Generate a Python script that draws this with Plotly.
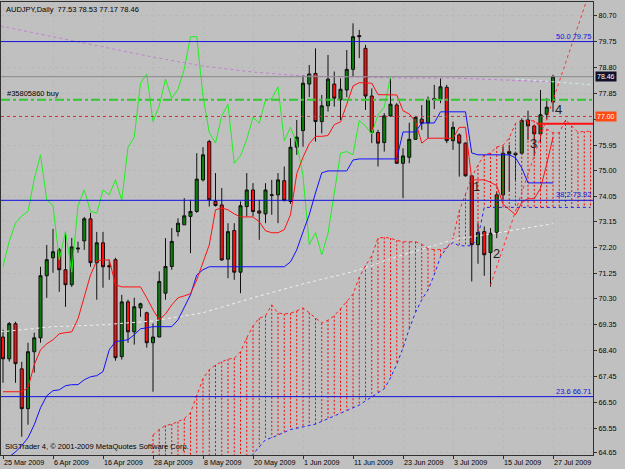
import plotly.graph_objects as go

# ---------------- data ----------------
tick_idx = [0, 8, 16, 24, 32, 40, 48, 56, 64, 72, 80, 88]
tick_labels = ["25 Mar 2009", "6 Apr 2009", "16 Apr 2009", "28 Apr 2009", "8 May 2009",
               "20 May 2009", "1 Jun 2009", "11 Jun 2009", "23 Jun 2009", "3 Jul 2009",
               "15 Jul 2009", "27 Jul 2009"]
price_ticks = [80.70, 79.75, 78.80, 77.85, 76.90, 75.95, 75.00, 74.05, 73.15, 72.20,
               71.25, 70.30, 69.35, 68.40, 67.45, 66.50, 65.55, 64.65]
price_tick_text = ["80.70", "79.75", "78.80", "77.85", "", "75.95", "75.00", "74.05", "73.15", "72.20",
                   "71.25", "70.30", "69.35", "68.40", "67.45", "66.50", "65.55", "64.65"]

opens = [68.90, 68.10, 69.39, 67.73, 66.27, 68.36, 68.87, 71.15, 71.81, 72.10,
         71.37, 70.82, 72.17, 72.43, 73.24, 71.63, 72.36, 71.52, 71.74, 68.18,
         70.19, 69.09, 69.97, 69.79, 68.69, 68.90, 70.51, 71.49, 72.77, 73.02,
         73.33, 73.51, 74.67, 76.08, 73.88, 73.75, 71.76, 72.81, 71.28, 73.69,
         74.30, 73.53, 73.42, 74.10, 74.12, 74.64, 73.88, 75.87, 76.48, 78.19,
         78.58, 76.81, 77.39, 78.19, 77.61, 77.97, 78.73, 79.97, 79.50, 77.75,
         76.41, 76.04, 77.02, 77.42, 75.28, 75.50, 76.16, 76.90, 76.77, 77.61,
         77.63, 78.07, 76.11, 76.32, 76.02, 74.82, 72.29, 72.77, 72.00, 72.74,
         74.12, 75.62, 75.65, 75.65, 76.87, 76.65, 76.36, 77.08, 77.53]
highs = [69.17, 69.45, 69.46, 67.99, 68.69, 69.06, 71.48, 72.28, 72.87, 72.17,
         72.76, 72.54, 72.40, 73.31, 73.46, 72.76, 72.76, 71.74, 71.81, 70.45,
         70.27, 70.34, 70.16, 69.83, 69.40, 71.31, 72.53, 72.90, 73.26, 74.00,
         73.94, 75.65, 75.87, 76.14, 74.92, 74.37, 73.08, 73.08, 73.88, 74.92,
         74.55, 73.94, 74.55, 74.67, 74.92, 75.16, 76.20, 76.87, 78.52, 78.89,
         79.50, 77.79, 79.26, 78.65, 78.40, 79.44, 80.42, 80.18, 79.63, 78.03,
         76.51, 77.12, 78.40, 77.49, 75.83, 76.77, 77.02, 77.42, 77.73, 78.16,
         78.40, 78.16, 76.81, 76.38, 76.05, 74.85, 73.08, 72.96, 72.90, 74.24,
         75.89, 75.96, 75.70, 76.93, 77.21, 76.70, 77.97, 77.67, 78.53]
lows = [67.22, 68.00, 67.22, 65.24, 65.68, 67.59, 68.69, 70.34, 71.26, 70.56,
        70.01, 70.74, 71.99, 72.10, 71.48, 70.27, 70.71, 71.00, 68.03, 68.07,
        68.69, 68.62, 69.64, 68.51, 66.89, 68.90, 70.27, 71.37, 72.59, 73.02,
        71.98, 73.46, 74.61, 73.69, 73.69, 71.70, 71.06, 71.00, 70.51, 73.33,
        73.33, 72.47, 73.08, 73.39, 73.08, 73.88, 73.79, 75.59, 75.89, 77.71,
        76.08, 76.38, 77.18, 77.36, 76.87, 77.71, 78.46, 79.14, 77.24, 76.02,
        75.16, 75.71, 76.99, 75.26, 74.00, 75.28, 76.14, 76.51, 76.20, 77.27,
        77.49, 76.02, 75.77, 74.79, 74.79, 70.94, 71.59, 71.15, 70.75, 72.53,
        73.94, 74.24, 74.61, 75.59, 76.14, 75.55, 76.02, 76.87, 77.17]
closes = [68.10, 69.39, 67.92, 66.27, 68.36, 68.87, 71.15, 71.74, 72.03, 71.37,
          70.82, 72.21, 72.14, 73.24, 71.63, 72.36, 71.48, 71.48, 68.14, 70.19,
          69.09, 70.01, 70.12, 68.69, 68.90, 70.94, 71.49, 72.41, 73.08, 73.35,
          73.51, 74.70, 75.59, 73.94, 73.73, 71.73, 72.77, 71.28, 73.72, 74.30,
          73.51, 73.45, 74.30, 74.12, 74.67, 73.91, 75.87, 76.24, 78.22, 78.56,
          76.81, 77.39, 78.37, 77.67, 78.00, 78.73, 79.93, 79.93, 77.75, 76.41,
          76.02, 77.02, 77.45, 75.28, 75.55, 76.16, 76.97, 76.75, 77.61, 77.65,
          78.09, 76.11, 76.60, 76.02, 74.82, 72.29, 72.74, 71.92, 72.71, 74.12,
          75.65, 75.71, 75.59, 76.85, 76.65, 76.36, 77.06, 77.34, 78.46]

tenkan = [66.89, 66.89, 66.89, 66.89, 67.04, 67.88, 68.43, 68.65, 68.80, 69.02,
          69.06, 69.09, 69.57, 70.41, 71.18, 71.70, 71.73, 71.73, 70.82, 70.74,
          70.74, 70.74, 70.74, 70.34, 69.90, 69.53, 69.75, 70.08, 70.34, 70.41,
          70.49, 71.00, 71.66, 72.28, 73.57, 73.64, 73.57, 73.42, 73.31, 73.31,
          73.31, 73.13, 72.80, 72.73, 72.73, 72.84, 73.39, 74.90, 75.50, 76.00,
          76.27, 76.27, 76.30, 76.70, 76.80, 77.45, 78.12, 78.24, 78.24, 78.22,
          77.80, 77.79, 77.79, 77.79, 77.21, 77.09, 76.82, 76.02, 76.20, 76.20,
          76.20, 76.20, 76.20, 76.60, 76.60, 74.67, 74.67, 74.67, 74.58, 74.46,
          73.78, 73.57, 73.39, 73.84, 73.98, 73.98, 74.36, 75.25, 76.24]
kijun = [64.40, 64.50, 64.68, 64.91, 65.20, 65.68, 66.30, 66.74, 66.93, 66.96,
         67.11, 67.15, 67.15, 67.33, 67.44, 67.48, 67.63, 68.43, 68.73, 68.76,
         68.80, 68.98, 69.20, 69.24, 69.28, 69.28, 69.28, 69.28, 69.53, 70.01,
         70.45, 71.18, 71.37, 71.48, 71.48, 71.48, 71.48, 71.48, 71.48, 71.48,
         71.48, 71.48, 71.48, 71.48, 71.48, 71.48, 71.66, 72.10, 72.76, 73.39,
         74.19, 74.93, 75.00, 75.00, 75.00, 75.00, 75.40, 75.44, 75.44, 75.44,
         75.44, 75.44, 75.44, 75.44, 76.43, 76.43, 76.43, 76.76, 76.76, 76.76,
         77.17, 77.17, 77.17, 77.17, 77.17, 75.66, 75.59, 75.59, 75.59, 75.59,
         75.59, 75.59, 75.48, 75.11, 74.56, 74.56, 74.56, 74.56, 74.56]

# Senkou spans, bars 24 .. 94 (cloud projected 26 bars ahead)
cloud_start = 24
span_a = [65.30, 65.50, 65.65, 65.70, 65.79, 65.90, 66.12, 66.78, 67.37, 67.70,
          67.87, 67.99, 68.09, 68.12, 68.36, 68.87, 69.31, 69.59, 69.68, 70.08,
          69.78, 69.75, 69.77, 69.86, 69.97, 69.79, 69.59, 69.41, 69.52, 69.68,
          69.94, 70.21, 70.47, 71.09, 71.52, 71.88, 72.53, 72.56, 72.53, 72.45,
          72.40, 72.40, 72.40, 72.31, 72.14, 72.11, 72.11, 72.16, 72.53, 73.53,
          74.14, 74.77, 75.22, 75.59, 75.66, 75.88, 75.94, 76.21, 76.74, 76.84,
          76.84, 76.84, 76.67, 76.53, 76.40, 76.40, 76.87, 76.65, 76.42, 76.45,
          76.45]
span_b = [63.80, 63.80, 63.80, 63.80, 63.80, 63.80, 63.80, 63.80, 63.80, 63.80,
          63.80, 63.80, 63.80, 63.80, 63.80, 63.80, 64.60, 64.85, 65.13, 65.20,
          65.30, 65.40, 65.50, 65.55, 65.60, 65.65, 65.70, 65.80, 65.90, 66.00,
          66.10, 66.20, 66.30, 66.40, 66.55, 66.70, 66.85, 67.00, 67.40, 67.90,
          68.50, 69.20, 69.80, 70.27, 70.63, 71.19, 71.85, 72.18, 72.37, 72.25,
          72.25, 72.25, 72.56, 73.66, 73.66, 73.66, 73.66, 73.66, 73.66, 73.66,
          73.66, 73.66, 73.66, 73.66, 73.66, 73.66, 73.66, 73.66, 73.66, 73.66,
          73.66]
chikou_shift = 26

# moving averages (sampled)
ma_pink_x = [-0.4, 8, 16, 24, 32, 40, 48, 56, 64, 72, 80, 88]
ma_pink_y = [80.32, 79.92, 79.55, 79.18, 78.85, 78.63, 78.49, 78.45, 78.41, 78.41, 78.34, 78.27]
ma_white_x = [-0.4, 8, 16, 24, 32, 40, 48, 56, 64, 72, 80, 88]
ma_white_y = [69.09, 69.28, 69.35, 69.49, 69.79, 70.34, 70.85, 71.30, 71.92, 72.47, 72.76, 73.06]
ma_cyan_x = [82, 88, 94.4]
ma_cyan_y = [78.38, 78.27, 78.16]

fib_levels = [79.75, 73.92, 66.71]
fib_texts = ["50.0 79.75", "38.2 73.92", "23.6 66.71"]
bid_price = 78.46
order_price = 77.61
order_text = "#35805860 buy"
alert_price = 77.00
stop_seg_x = [85.4, 94.4]
stop_seg_y = [76.73, 76.73]
trend_x = [78, 95]
trend_y = [70.80, 82.36]
wave_x = [75.8, 78.9, 84.8, 88.8]
wave_y = [74.41, 71.98, 76.02, 77.24]
wave_txt = ["1", "2", "3", "4"]

title_txt = "AUDJPY,Daily  77.53 78.53 77.17 78.46"
copy_txt = "SIGTrader 4, © 2001-2009 MetaQuotes Software Corp."

# ---------------- figure ----------------
n = len(closes)
idx = list(range(n))
FONT = "Liberation Sans, Arial, sans-serif"
fig = go.Figure()

# cloud hatch: one short dotted segment per bar, from span A to span B
cx = [cloud_start + k for k in range(len(span_a))]
for i, a, b in zip(cx, span_a, span_b):
    fig.add_trace(go.Scatter(x=[i, i], y=[a, b], mode="lines",
                             line=dict(color="#ff0000", width=1, dash="2px,2px"),
                             hoverinfo="skip", showlegend=False))
fig.add_trace(go.Scatter(x=cx, y=span_a, mode="lines", line=dict(color="#ff2020", width=1, dash="dot"),
                         showlegend=False))
fig.add_trace(go.Scatter(x=cx, y=span_b, mode="lines", line=dict(color="#2020ff", width=1, dash="dot"),
                         showlegend=False))

# moving averages
fig.add_trace(go.Scatter(x=ma_pink_x, y=ma_pink_y, mode="lines", line=dict(color="#c080d0", width=1, dash="dot"),
                         showlegend=False))
fig.add_trace(go.Scatter(x=ma_white_x, y=ma_white_y, mode="lines", line=dict(color="#f0f0f0", width=1, dash="dot"),
                         showlegend=False))
fig.add_trace(go.Scatter(x=ma_cyan_x, y=ma_cyan_y, mode="lines", line=dict(color="#c8f0f0", width=1, dash="dot"),
                         showlegend=False))

# horizontal levels
for lv in fib_levels:
    fig.add_shape(type="line", xref="paper", x0=0, x1=1, y0=lv, y1=lv, line=dict(color="#1010e0", width=1))
fig.add_shape(type="line", xref="paper", x0=0, x1=1, y0=bid_price, y1=bid_price, line=dict(color="#888888", width=1))
fig.add_shape(type="line", xref="paper", x0=0, x1=1, y0=alert_price, y1=alert_price,
              line=dict(color="#c83030", width=1, dash="dot"))
fig.add_shape(type="line", xref="paper", x0=0, x1=1, y0=order_price, y1=order_price,
              line=dict(color="#30c830", width=2, dash="dashdot"))
fig.add_trace(go.Scatter(x=stop_seg_x, y=stop_seg_y, mode="lines", line=dict(color="#ff1010", width=2),
                         showlegend=False))
fig.add_trace(go.Scatter(x=trend_x, y=trend_y, mode="lines", line=dict(color="#ff3030", width=1, dash="dot"),
                         showlegend=False))

# ichimoku lines
fig.add_trace(go.Scatter(x=idx[:n - chikou_shift], y=closes[chikou_shift:], mode="lines",
                         line=dict(color="#20f020", width=1), showlegend=False))
fig.add_trace(go.Scatter(x=idx, y=kijun, mode="lines", line=dict(color="#1010ff", width=1), showlegend=False))
fig.add_trace(go.Scatter(x=idx, y=tenkan, mode="lines", line=dict(color="#ff1010", width=1), showlegend=False))

# candles
fig.add_trace(go.Candlestick(x=idx, open=opens, high=highs, low=lows, close=closes,
                             increasing=dict(line=dict(color="#101010", width=1), fillcolor="#0a800a"),
                             decreasing=dict(line=dict(color="#101010", width=1), fillcolor="#ff1010"),
                             whiskerwidth=0, showlegend=False))

ann = []
for lv, t in zip(fib_levels, fib_texts):
    ann.append(dict(xref="paper", x=1, y=lv, xanchor="right", yanchor="bottom", text=t, showarrow=False,
                    font=dict(family=FONT, size=7.5, color="#1010e0"), yshift=-1))
ann.append(dict(xref="x", x=0.3, y=order_price, xanchor="left", yanchor="bottom", text=order_text,
                showarrow=False, font=dict(family=FONT, size=7.5, color="#000000"), yshift=0))
for x, y, t in zip(wave_x, wave_y, wave_txt):
    ann.append(dict(x=x, y=y, text=t, showarrow=False, font=dict(family=FONT, size=13, color="#202020")))
ann.append(dict(xref="paper", yref="paper", x=0, y=1, xanchor="left", yanchor="top", xshift=3, yshift=-1,
                text=title_txt, showarrow=False, font=dict(family=FONT, size=7.5, color="#000000")))
ann.append(dict(xref="paper", yref="paper", x=0, y=0, xanchor="left", yanchor="bottom", xshift=2, yshift=2,
                text=copy_txt, showarrow=False, font=dict(family=FONT, size=7.5, color="#000000")))
ann.append(dict(xref="paper", x=1, y=bid_price, xanchor="left", xshift=2, text=f"{bid_price:.2f}",
                showarrow=False, bgcolor="#10102a", borderpad=1, font=dict(family=FONT, size=7, color="#ffffff")))
ann.append(dict(xref="paper", x=1, y=alert_price, xanchor="left", xshift=2, text=f"{alert_price:.2f}",
                showarrow=False, bgcolor="#ff4a14", borderpad=1, font=dict(family=FONT, size=7, color="#ffffff")))

fig.update_layout(
    width=625, height=469,
    margin=dict(l=1, r=32, t=2, b=14),
    paper_bgcolor="#c0c0c0", plot_bgcolor="#c0c0c0",
    showlegend=False, boxgap=0.3,
    annotations=ann,
    xaxis=dict(range=[-0.32, 94.4], tickvals=tick_idx, ticktext=tick_labels, ticks="outside", ticklen=3,
               tickcolor="#303030", showgrid=True, gridcolor="#b8b8b8", griddash="dot", gridwidth=1,
               showline=True, mirror=True, linecolor="#303030", zeroline=False,
               tickfont=dict(family=FONT, size=7.2, color="#000000"), ticklabelposition="outside right",
               rangeslider=dict(visible=False), automargin=False, fixedrange=True),
    yaxis=dict(range=[64.567, 81.203], side="right", tickvals=price_ticks, ticktext=price_tick_text,
               ticks="outside", ticklen=3, tickcolor="#303030", showgrid=True, gridcolor="#b8b8b8",
               griddash="dot", gridwidth=1, showline=True, mirror=True, linecolor="#303030", zeroline=False,
               tickfont=dict(family=FONT, size=7.2, color="#000000"), automargin=False, fixedrange=True),
)

fig.write_html("out.html")
